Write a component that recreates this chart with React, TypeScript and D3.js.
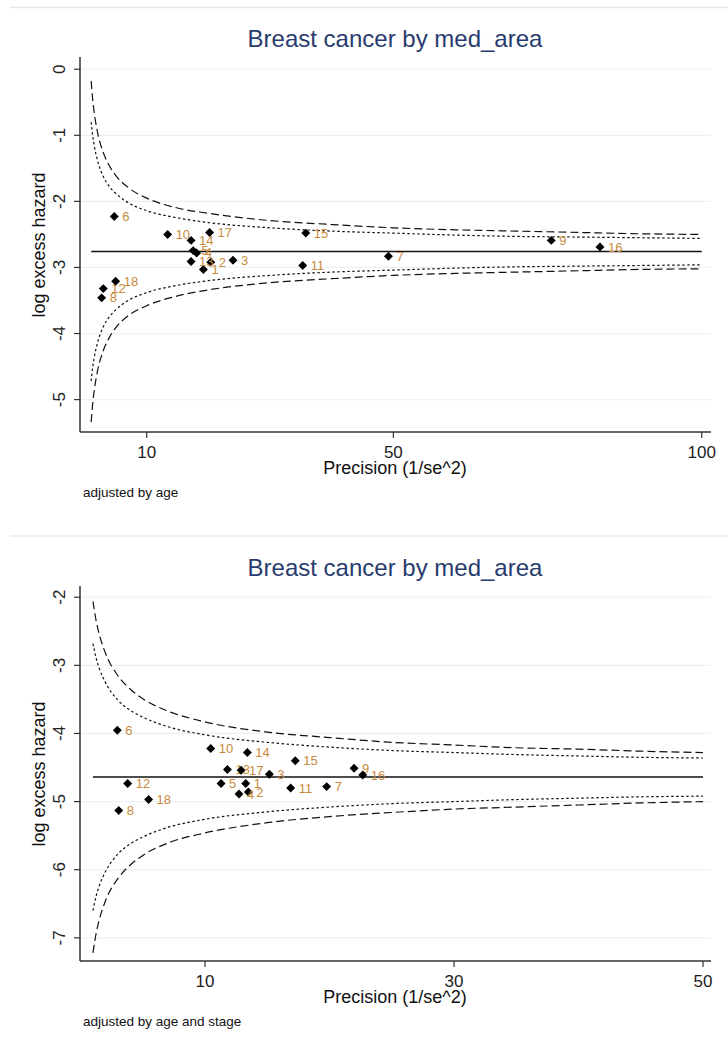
import React from "react";
import * as d3 from "d3";

// area numbers 1..18
const areaIds = [1, 2, 3, 4, 5, 6, 7, 8, 9, 10, 11, 12, 13, 14, 15, 16, 17, 18];

// panel 1: adjusted by age
const precAge = [19.2, 20.4, 24.0, 18.1, 17.55, 4.75, 49.2, 2.7, 75.6, 13.4, 35.3, 2.97, 17.2, 17.2, 35.8, 83.5, 20.2, 4.97];
const hazAge = [-3.03, -2.92, -2.89, -2.78, -2.745, -2.23, -2.83, -3.46, -2.59, -2.5, -2.97, -3.32, -2.91, -2.59, -2.48, -2.69, -2.47, -3.21];
const pooledAge = -2.76;
const limPrecAge = [1, 1.25, 1.5, 2, 3, 4, 5, 7, 10, 15, 20, 30, 40, 50, 60, 70, 80, 90, 100];
const up95Age = [-0.8, -1.01, -1.16, -1.37, -1.63, -1.78, -1.88, -2.02, -2.14, -2.25, -2.32, -2.4, -2.45, -2.48, -2.51, -2.53, -2.54, -2.55, -2.56];
const lo95Age = [-4.72, -4.51, -4.36, -4.15, -3.89, -3.74, -3.64, -3.5, -3.38, -3.27, -3.2, -3.12, -3.07, -3.04, -3.01, -2.99, -2.98, -2.97, -2.96];
const up99Age = [-0.18, -0.46, -0.66, -0.94, -1.27, -1.47, -1.61, -1.79, -1.95, -2.1, -2.18, -2.29, -2.35, -2.4, -2.43, -2.45, -2.47, -2.49, -2.5];
const lo99Age = [-5.34, -5.06, -4.86, -4.58, -4.25, -4.05, -3.91, -3.73, -3.58, -3.43, -3.34, -3.23, -3.17, -3.12, -3.09, -3.07, -3.05, -3.03, -3.02];
const xTicksAge = [10, 50, 100];
const yTicksAge = [0, -1, -2, -3, -4, -5];

// panel 2: adjusted by age and stage
const precStage = [13.27, 13.48, 15.17, 12.73, 11.29, 2.96, 19.77, 3.07, 21.97, 10.46, 16.88, 3.79, 11.8, 13.4, 17.25, 22.67, 12.9, 5.47];
const hazStage = [-4.735, -4.86, -4.6, -4.89, -4.735, -3.954, -4.78, -5.13, -4.51, -4.22, -4.8, -4.735, -4.53, -4.28, -4.4, -4.61, -4.54, -4.97];
const pooledStage = -4.64;
const limPrecStage = [1, 1.25, 1.5, 2, 3, 4, 5, 7, 10, 15, 20, 25, 30, 35, 40, 45, 50];
const up95Stage = [-2.68, -2.89, -3.04, -3.25, -3.51, -3.66, -3.76, -3.9, -4.02, -4.13, -4.2, -4.25, -4.28, -4.31, -4.33, -4.35, -4.36];
const lo95Stage = [-6.6, -6.39, -6.24, -6.03, -5.77, -5.62, -5.52, -5.38, -5.26, -5.15, -5.08, -5.03, -5.0, -4.97, -4.95, -4.93, -4.92];
const up99Stage = [-2.06, -2.34, -2.54, -2.82, -3.15, -3.35, -3.49, -3.67, -3.83, -3.98, -4.06, -4.13, -4.17, -4.21, -4.23, -4.26, -4.28];
const lo99Stage = [-7.22, -6.94, -6.74, -6.46, -6.13, -5.93, -5.79, -5.61, -5.46, -5.31, -5.22, -5.16, -5.11, -5.08, -5.05, -5.02, -5.0];
const xTicksStage = [10, 30, 50];
const yTicksStage = [-2, -3, -4, -5, -6, -7];

const FONT = "'Liberation Sans', Arial, sans-serif";
const GRID = "#eaf2f3";
const LABEL = "#c98a3e";

interface PanelProps {
  top: number;
  title: string;
  note: string;
  prec: number[];
  haz: number[];
  pooled: number;
  limPrec: number[];
  up95: number[];
  lo95: number[];
  up99: number[];
  lo99: number[];
  xDomain: [number, number];
  yDomain: [number, number];
  xTicks: number[];
  yTicks: number[];
}

const Panel: React.FC<PanelProps> = (p) => {
  const x0 = 80;
  const x1 = 711;
  const yTop = p.top + 50;
  const yBot = p.top + 424;

  const x = d3.scaleLinear().domain(p.xDomain).range([x0, x1]);
  const y = d3.scaleLinear().domain(p.yDomain).range([yBot, yTop]);

  const line = d3
    .line<[number, number]>()
    .x((d) => x(d[0]))
    .y((d) => y(d[1]))
    .curve(d3.curveMonotoneX);

  const path = (vals: number[]) =>
    line(p.limPrec.map((v, i) => [v, vals[i]] as [number, number])) || "";

  const diamond = d3.symbol().type(d3.symbolSquare).size(40)() || "";
  const pMin = p.limPrec[0];
  const pMax = p.limPrec[p.limPrec.length - 1];

  return (
    <g fontFamily={FONT}>
      <text x={395} y={p.top + 39} textAnchor="middle" fontSize={24} fill="#283c6e">
        {p.title}
      </text>

      {p.yTicks.map((t) => (
        <g key={t}>
          <line x1={x0} x2={x1} y1={y(t)} y2={y(t)} stroke={GRID} strokeWidth={1.2} />
          <line x1={x0 - 6} x2={x0} y1={y(t)} y2={y(t)} stroke="#333" strokeWidth={1.2} />
          <text
            transform={`translate(65,${y(t)}) rotate(-90)`}
            textAnchor="middle"
            fontSize={17}
            fill="#222"
          >
            {t}
          </text>
        </g>
      ))}

      {p.xTicks.map((t) => (
        <g key={t}>
          <line x1={x(t)} x2={x(t)} y1={yBot} y2={yBot + 6} stroke="#333" strokeWidth={1.2} />
          <text x={x(t)} y={yBot + 26} textAnchor="middle" fontSize={17} fill="#222">
            {t}
          </text>
        </g>
      ))}

      <line x1={x0} x2={x0} y1={yTop - 1} y2={yBot} stroke="#333" strokeWidth={1.5} />
      <line x1={x0} x2={x1} y1={yBot} y2={yBot} stroke="#333" strokeWidth={1.5} />

      <text
        transform={`translate(45,${(yTop + yBot) / 2}) rotate(-90)`}
        textAnchor="middle"
        fontSize={18}
        fill="#111"
      >
        log excess hazard
      </text>
      <text x={395} y={yBot + 42} textAnchor="middle" fontSize={18} fill="#111">
        Precision (1/se^2)
      </text>
      <text x={83} y={yBot + 65} fontSize={13.5} fill="#111">
        {p.note}
      </text>

      <path d={path(p.up99)} fill="none" stroke="#111" strokeWidth={1.2} strokeDasharray="8,4" />
      <path d={path(p.lo99)} fill="none" stroke="#111" strokeWidth={1.2} strokeDasharray="8,4" />
      <path d={path(p.up95)} fill="none" stroke="#111" strokeWidth={1.2} strokeDasharray="2.5,2.5" />
      <path d={path(p.lo95)} fill="none" stroke="#111" strokeWidth={1.2} strokeDasharray="2.5,2.5" />
      <line
        x1={x(pMin)}
        x2={x(pMax)}
        y1={y(p.pooled)}
        y2={y(p.pooled)}
        stroke="#111"
        strokeWidth={1.5}
      />

      {areaIds.map((id, i) => (
        <g key={id} transform={`translate(${x(p.prec[i])},${y(p.haz[i])})`}>
          <path d={diamond} transform="rotate(45)" fill="#000" />
          <text x={8} dy="0.35em" fontSize={13} fill={LABEL}>
            {id}
          </text>
        </g>
      ))}
    </g>
  );
};

export default function App() {
  return (
    <div style={{ position: "absolute", left: 0, top: 0 }}>
      <svg width={728} height={1050} style={{ display: "block", background: "#fff" }}>
        <line x1={10} x2={728} y1={7.5} y2={7.5} stroke="#e3eaec" strokeWidth={1.5} />
        <line x1={10} x2={728} y1={536} y2={536} stroke="#e3eaec" strokeWidth={1.5} />
        <Panel
          top={8}
          title="Breast cancer by med_area"
          note="adjusted by age"
          prec={precAge}
          haz={hazAge}
          pooled={pooledAge}
          limPrec={limPrecAge}
          up95={up95Age}
          lo95={lo95Age}
          up99={up99Age}
          lo99={lo99Age}
          xDomain={[-0.81, 101.5]}
          yDomain={[-5.49, 0.17]}
          xTicks={xTicksAge}
          yTicks={yTicksAge}
        />
        <Panel
          top={537}
          title="Breast cancer by med_area"
          note="adjusted by age and stage"
          prec={precStage}
          haz={hazStage}
          pooled={pooledStage}
          limPrec={limPrecStage}
          up95={up95Stage}
          lo95={lo95Stage}
          up99={up99Stage}
          lo99={lo99Stage}
          xDomain={[-0.04, 50.64]}
          yDomain={[-7.34, -1.85]}
          xTicks={xTicksStage}
          yTicks={yTicksStage}
        />
      </svg>
    </div>
  );
}
